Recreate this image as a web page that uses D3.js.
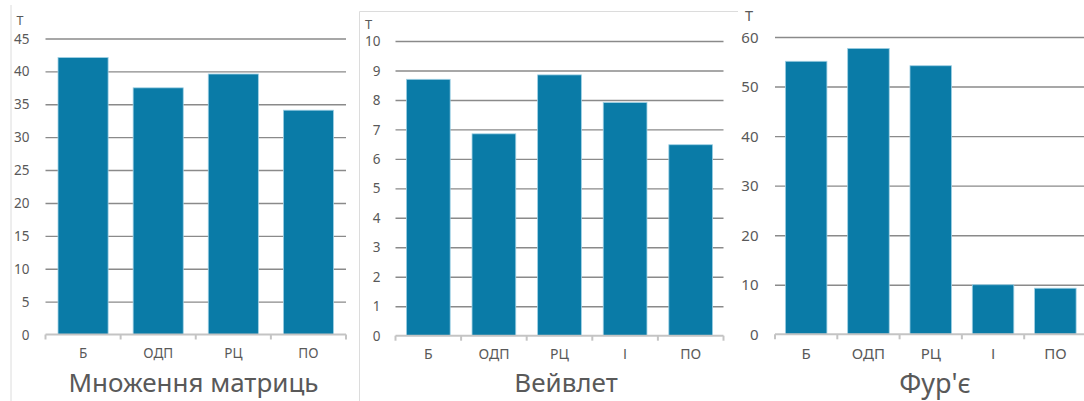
<!DOCTYPE html>
<html>
<head>
<meta charset="utf-8">
<script src="https://cdn.jsdelivr.net/npm/d3@7/dist/d3.min.js"></script>
<style>
  html, body { margin: 0; padding: 0; background: #fff; }
  svg { display: block; }
  text { font-family: "Noto Sans", "Liberation Sans", Arial, sans-serif; fill: #595959; }
</style>
</head>
<body>
<svg id="chart" width="1084" height="401"></svg>
<script>
// Execution time (Т) per processing stage for three transforms
const matrixCategories = ["Б", "ОДП", "РЦ", "ПО"];
const matrixValues = [42.1, 37.5, 39.6, 34.1];
const matrixTicks = [0, 5, 10, 15, 20, 25, 30, 35, 40, 45];
const matrixTitle = "Множення матриць";

const waveletCategories = ["Б", "ОДП", "РЦ", "І", "ПО"];
const waveletValues = [8.70, 6.85, 8.85, 7.91, 6.48];
const waveletTicks = [0, 1, 2, 3, 4, 5, 6, 7, 8, 9, 10];
const waveletTitle = "Вейвлет";

const fourierCategories = ["Б", "ОДП", "РЦ", "І", "ПО"];
const fourierValues = [55.1, 57.7, 54.2, 10.0, 9.3];
const fourierTicks = [0, 10, 20, 30, 40, 50, 60];
const fourierTitle = "Фур'є";

const axisUnit = "Т";

const BAR = "#0a7ba7";
const BAR_EDGE = "#9fd0e4";
const GRID = "#8a8a8a";
const BASE = "#c4c4c4";
const FRAME = "#dcdcdc";

const svg = d3.select("#chart");

// Panel frames
svg.append("line").attr("x1", 11).attr("x2", 11).attr("y1", 5).attr("y2", 401)
  .attr("stroke", FRAME).attr("stroke-width", 1);
svg.append("path").attr("d", "M359.5,401V11.5H738")
  .attr("fill", "none").attr("stroke", FRAME).attr("stroke-width", 1);

function drawPanel(p) {
  const g = svg.append("g");
  const x = d3.scaleBand().domain(p.categories).range([p.x0, p.x1])
    .paddingInner(1 / 3).paddingOuter(1 / 6);
  const y = d3.scaleLinear().domain([0, p.ticks[p.ticks.length - 1]]).range([p.y0, p.yTop]);

  // gridlines + value labels
  const yAxis = d3.axisLeft(y).tickValues(p.ticks).tickSize(-(p.gridEnd - p.x0))
    .tickPadding(p.labelGap).tickFormat(d3.format("d"));
  const ya = g.append("g").attr("transform", `translate(${p.x0},0)`).call(yAxis);
  ya.select(".domain").remove();
  ya.selectAll(".tick line").attr("stroke", GRID).attr("stroke-width", 1.4)
    .attr("opacity", d => d === 0 ? 0 : 1);
  ya.selectAll(".tick text").attr("fill", "#595959").attr("dy", "0.34em")
    .style("font-family", "Noto Sans").style("font-size", p.tickSize + "px");

  // bars
  g.append("g").selectAll("rect").data(p.values).join("rect")
    .attr("x", (d, i) => x(p.categories[i]))
    .attr("width", x.bandwidth())
    .attr("y", d => y(d))
    .attr("height", d => y(0) - y(d))
    .attr("fill", BAR)
    .attr("stroke", BAR_EDGE).attr("stroke-width", 0.8);

  // baseline with boundary ticks
  const step = x.step();
  g.append("line").attr("x1", p.x0).attr("x2", p.x1).attr("y1", y(0)).attr("y2", y(0))
    .attr("stroke", BASE).attr("stroke-width", 2);
  g.append("g").selectAll("line").data(d3.range(p.categories.length + 1)).join("line")
    .attr("x1", i => p.x0 + i * step).attr("x2", i => p.x0 + i * step)
    .attr("y1", y(0)).attr("y2", y(0) + 5)
    .attr("stroke", BASE).attr("stroke-width", 2);

  // category labels
  const xAxis = d3.axisBottom(x).tickSize(0).tickPadding(p.catPad);
  const xa = g.append("g").attr("transform", `translate(0,${y(0)})`).call(xAxis);
  xa.select(".domain").remove();
  xa.selectAll(".tick text").attr("fill", "#595959")
    .style("font-family", "Noto Sans").style("font-size", p.catSize + "px");

  // unit label
  g.append("text").attr("x", p.unitX).attr("y", p.unitY)
    .style("font-size", p.unitSize + "px").text(axisUnit);

  // title
  g.append("text").attr("x", p.titleX).attr("y", p.titleY).attr("text-anchor", "middle")
    .style("font-size", p.titleSize + "px").text(p.title);
}

drawPanel({
  categories: matrixCategories, values: matrixValues, ticks: matrixTicks, title: matrixTitle,
  x0: 45.5, x1: 346, gridEnd: 346, y0: 334.5, yTop: 38.5, labelGap: 16,
  tickSize: 13.5, catSize: 13.5, catPad: 13.5,
  unitX: 16.5, unitY: 25, unitSize: 12.5,
  titleX: 193.5, titleY: 391.5, titleSize: 26
});

drawPanel({
  categories: waveletCategories, values: waveletValues, ticks: waveletTicks, title: waveletTitle,
  x0: 395.5, x1: 723.5, gridEnd: 723.5, y0: 335.7, yTop: 41, labelGap: 15,
  tickSize: 13.5, catSize: 14, catPad: 13.5,
  unitX: 365, unitY: 29, unitSize: 13,
  titleX: 566, titleY: 391.5, titleSize: 26
});

drawPanel({
  categories: fourierCategories, values: fourierValues, ticks: fourierTicks, title: fourierTitle,
  x0: 775, x1: 1086.5, gridEnd: 1084, y0: 334.3, yTop: 37, labelGap: 16.5,
  tickSize: 15, catSize: 15, catPad: 14.5,
  unitX: 745, unitY: 21, unitSize: 14.5,
  titleX: 935, titleY: 392.5, titleSize: 27
});
</script>
</body>
</html>
